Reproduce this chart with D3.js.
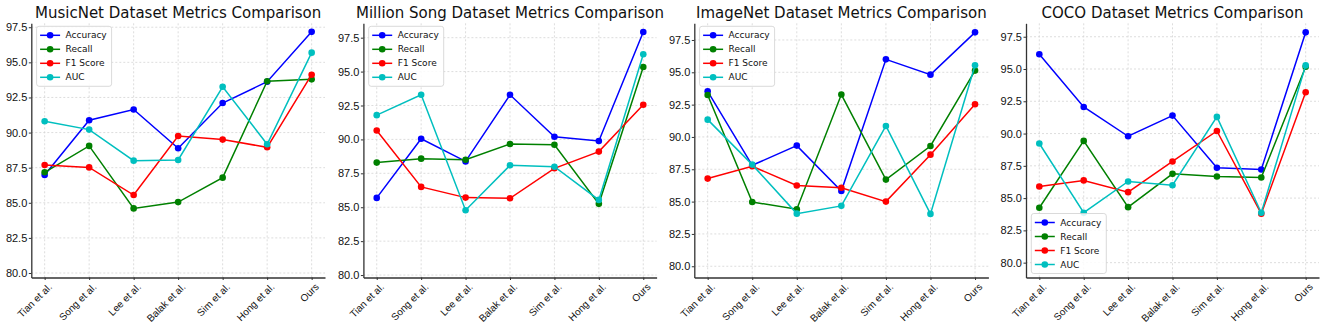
<!DOCTYPE html>
<html lang="en">
<head>
<meta charset="UTF-8">
<title>Dataset Metrics Comparison</title>
<script src="https://cdn.jsdelivr.net/npm/d3@7"></script>
<style>
  body { margin: 0; background: #fff; }
  svg { font-family: "DejaVu Sans", sans-serif; display: block; }
  .grid line { stroke: #d4d4d4; stroke-width: 0.8; stroke-dasharray: 2,2; }
  .axis path, .axis line { stroke: #333; }
  .axis text { fill: #111; }
</style>
</head>
<body>
<script>
// categories and metric names
var methods = ['Tian et al.', 'Song et al.', 'Lee et al.', 'Balak et al.', 'Sim et al.', 'Hong et al.', 'Ours'];
var metrics = ['Accuracy', 'Recall', 'F1 Score', 'AUC'];
var colors = ['#0000ff', '#008000', '#ff0000', '#00bfbf'];
var yTicks = [80, 82.5, 85, 87.5, 90, 92.5, 95, 97.5];

// MusicNet
var musicnetAccuracy = [86.98, 90.88, 91.64, 88.88, 92.1, 93.62, 97.17];
var musicnetRecall   = [87.17, 89.05, 84.6, 85.05, 86.79, 93.65, 93.79];
var musicnetF1       = [87.69, 87.52, 85.55, 89.76, 89.5, 88.95, 94.12];
var musicnetAUC      = [90.81, 90.21, 88.0, 88.05, 93.26, 89.17, 95.69];

// Million Song
var millionAccuracy = [85.69, 90.05, 88.38, 93.29, 90.2, 89.88, 97.92];
var millionRecall   = [88.29, 88.58, 88.5, 89.66, 89.61, 85.25, 95.34];
var millionF1       = [90.66, 86.5, 85.71, 85.66, 87.87, 89.1, 92.55];
var millionAUC      = [91.79, 93.29, 84.78, 88.09, 87.99, 85.54, 96.28];

// ImageNet
var imagenetAccuracy = [93.53, 87.81, 89.33, 85.82, 96.0, 94.82, 98.09];
var imagenetRecall   = [93.25, 84.97, 84.41, 93.28, 86.7, 89.3, 95.13];
var imagenetF1       = [86.78, 87.73, 86.25, 86.07, 85.0, 88.63, 92.53];
var imagenetAUC      = [91.34, 87.86, 84.07, 84.67, 90.85, 84.05, 95.54];

// COCO
var cocoAccuracy = [96.14, 92.06, 89.79, 91.39, 87.35, 87.22, 97.84];
var cocoRecall   = [84.25, 89.43, 84.3, 86.88, 86.67, 86.6, 95.18];
var cocoF1       = [85.9, 86.37, 85.46, 87.84, 90.2, 83.79, 93.2];
var cocoAUC      = [89.23, 83.87, 86.29, 86.0, 91.29, 83.87, 95.28];

var W = 1325, H = 324;
var plotTop = 23.3, plotBottom = 277.5;

var panels = [
  { title: 'MusicNet Dataset Metrics Comparison', series: [musicnetAccuracy, musicnetRecall, musicnetF1, musicnetAUC],
    x0: 31.3, x1: 325, ydom: [79.68, 97.78], legend: 'top' },
  { title: 'Million Song Dataset Metrics Comparison', series: [millionAccuracy, millionRecall, millionF1, millionAUC],
    x0: 363.4, x1: 656.6, ydom: [79.82, 98.56], legend: 'top' },
  { title: 'ImageNet Dataset Metrics Comparison', series: [imagenetAccuracy, imagenetRecall, imagenetF1, imagenetAUC],
    x0: 694.3, x1: 988.4, ydom: [79.13, 98.79], legend: 'top' },
  { title: 'COCO Dataset Metrics Comparison', series: [cocoAccuracy, cocoRecall, cocoF1, cocoAUC],
    x0: 1026, x1: 1319, ydom: [78.85, 98.54], legend: 'bottom' }
];

var svg = d3.select('body').append('svg')
  .attr('width', W)
  .attr('height', H);

panels.forEach(function(p) {
  var x = d3.scalePoint().domain(methods).range([p.x0, p.x1]).padding(0.3);
  var y = d3.scaleLinear().domain(p.ydom).range([plotBottom, plotTop]);
  var g = svg.append('g');

  // grid
  var grid = g.append('g').attr('class', 'grid');
  grid.selectAll('.gx').data(methods).enter().append('line')
    .attr('x1', d => x(d)).attr('x2', d => x(d))
    .attr('y1', plotTop).attr('y2', plotBottom);
  grid.selectAll('.gy').data(yTicks).enter().append('line')
    .attr('x1', p.x0).attr('x2', p.x1)
    .attr('y1', d => y(d)).attr('y2', d => y(d));

  // axes
  var yAxis = d3.axisLeft(y).tickValues(yTicks).tickFormat(d3.format('.1f'))
    .tickSize(2.5).tickPadding(1.5).tickSizeOuter(0);
  g.append('g').attr('class', 'axis')
    .attr('transform', 'translate(' + p.x0 + ',0)')
    .call(yAxis)
    .call(a => a.select('.domain').attr('stroke-width', 1.3))
    .selectAll('text').attr('font-size', '11px');

  var xAxis = d3.axisBottom(x).tickSize(2.5).tickSizeOuter(0).tickFormat('');
  var xg = g.append('g').attr('class', 'axis')
    .attr('transform', 'translate(0,' + plotBottom + ')')
    .call(xAxis)
    .call(a => a.select('.domain').attr('stroke-width', 1.3));
  xg.selectAll('.xl').data(methods).enter().append('text')
    .attr('class', 'xl')
    .attr('font-size', '10px')
    .attr('fill', '#111')
    .attr('text-anchor', 'end')
    .attr('transform', d => 'translate(' + (x(d) + 3) + ',5) rotate(-45)')
    .attr('dy', '0.7em')
    .text(d => d);

  // title
  g.append('text')
    .attr('x', (p.x0 + p.x1) / 2)
    .attr('y', 18)
    .attr('text-anchor', 'middle')
    .attr('font-size', '15px')
    .attr('fill', '#111')
    .text(p.title);

  // lines
  var line = d3.line().x((d, i) => x(methods[i])).y(d => y(d));
  p.series.forEach(function(vals, k) {
    g.append('path')
      .datum(vals)
      .attr('fill', 'none')
      .attr('stroke', colors[k])
      .attr('stroke-width', 1.5)
      .attr('d', line);
    g.selectAll('.pt' + k).data(vals).enter().append('circle')
      .attr('cx', (d, i) => x(methods[i]))
      .attr('cy', d => y(d))
      .attr('r', 3.3)
      .attr('fill', colors[k]);
  });

  // legend
  var lx = p.x0 + 5.3;
  var ly = p.legend === 'top' ? plotTop + 3 : plotBottom - 64;
  var lg = g.append('g').attr('transform', 'translate(' + lx + ',' + ly + ')');
  lg.append('rect')
    .attr('width', 75).attr('height', 60).attr('rx', 2.5)
    .attr('fill', 'white').attr('fill-opacity', 0.85)
    .attr('stroke', '#d0d0d0').attr('stroke-width', 0.8);
  metrics.forEach(function(m, k) {
    var ry = 9 + k * 14;
    lg.append('line')
      .attr('x1', 3.5).attr('x2', 23.5).attr('y1', ry).attr('y2', ry)
      .attr('stroke', colors[k]).attr('stroke-width', 1.5);
    lg.append('circle').attr('cx', 13.5).attr('cy', ry).attr('r', 3.3).attr('fill', colors[k]);
    lg.append('text')
      .attr('x', 29).attr('y', ry).attr('dy', '0.35em')
      .attr('font-size', '9px').attr('fill', '#111')
      .text(m);
  });
});
</script>
</body>
</html>
